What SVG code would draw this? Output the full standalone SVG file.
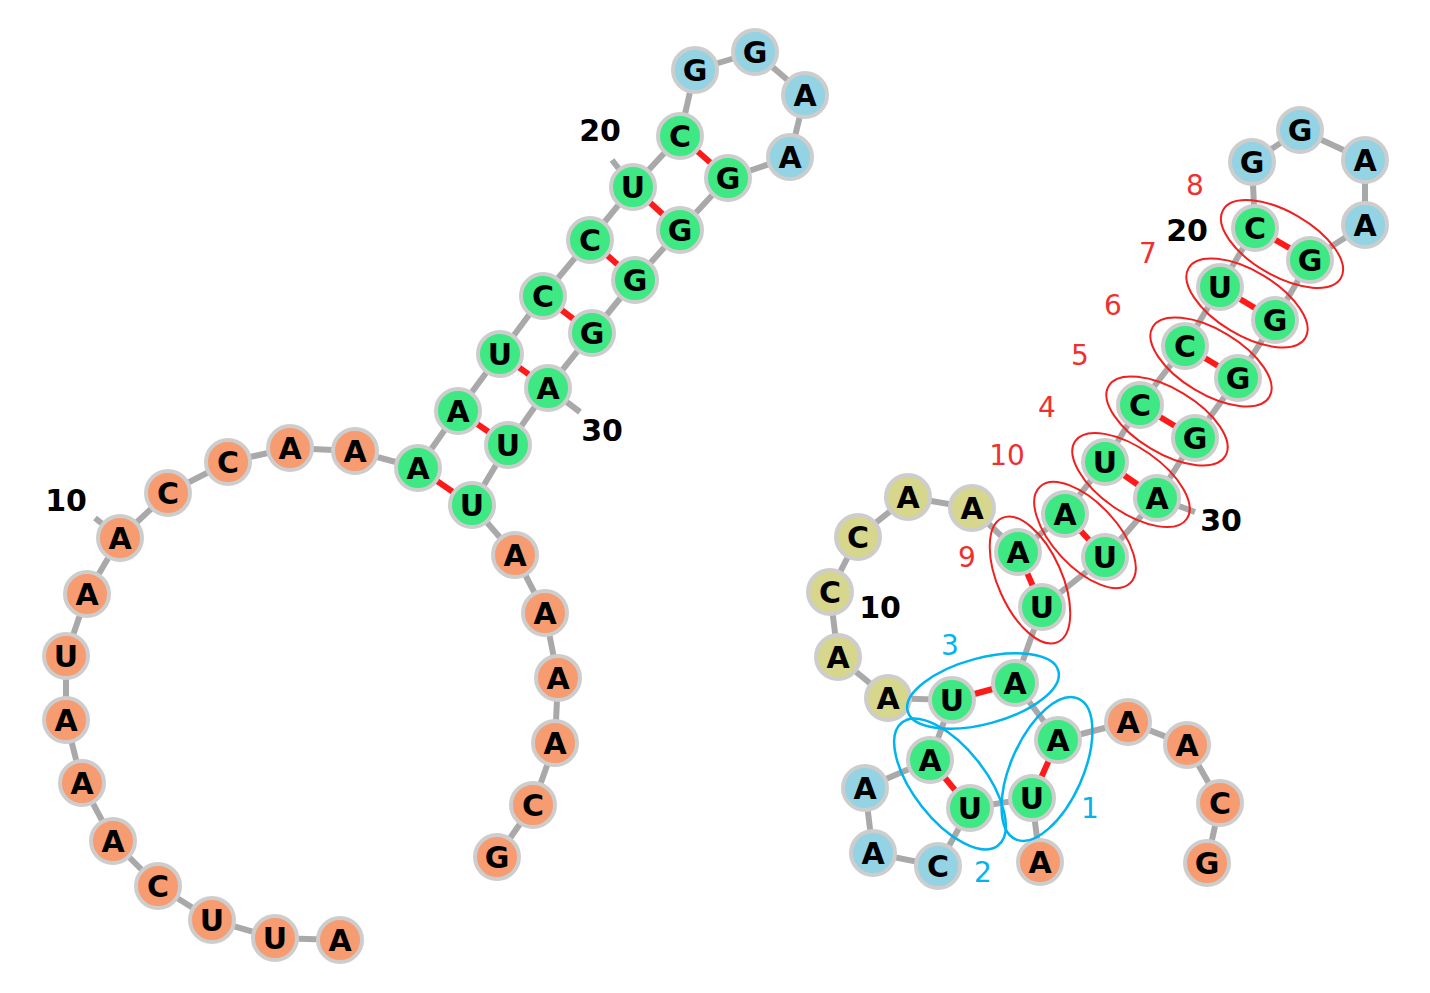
<svg xmlns="http://www.w3.org/2000/svg" width="1430" height="993" viewBox="0 0 1430 993">
<style>
.g{fill:#3ee882}.o{fill:#f79b70}.b{fill:#93d3e3}.y{fill:#d6d68c}
circle{stroke:#cdcdcd;stroke-width:4}
.n text{font-family:Verdana,"DejaVu Sans",sans-serif;font-weight:bold;font-size:30px;text-anchor:middle;dominant-baseline:central;fill:#000}
.bb{stroke:#a9a9a9;stroke-width:6;fill:none}
.bp{stroke:#ff1a1a;stroke-width:6;fill:none}
.lab{font-family:Verdana,"DejaVu Sans",sans-serif;font-weight:bold;font-size:30px;fill:#000;text-anchor:middle}
.rn{font-family:Verdana,"DejaVu Sans",sans-serif;font-size:28px;fill:#f03030;text-anchor:middle}
.cn{font-family:Verdana,"DejaVu Sans",sans-serif;font-size:28px;fill:#00b4ee;text-anchor:middle}
.re{fill:none;stroke:#f02020;stroke-width:2}
.ce{fill:none;stroke:#00b4ee;stroke-width:2.5}
</style>
<g id="connectors">
<polyline class="bb" points="340,940 275,938 212,920 158,886 113,841 82,783 66,720 66,656 87,594 120,538 168,493 228,462 290,448 355,451 418,468 458,411 500,354 543,296 590,240 633,187 680,136 695,70 755,52 805,95 790,157 728,178 680,230 635,280 592,333 548,388 508,445 472,505 515,555 545,613 558,678 555,743 533,805 497,857"/>
<line class="bb" x1="120" y1="538" x2="95" y2="518"/>
<line class="bb" x1="633" y1="187" x2="612" y2="160"/>
<line class="bb" x1="548" y1="388" x2="580" y2="412"/>
<g class="bp">
<line x1="418" y1="468" x2="472" y2="505"/><line x1="458" y1="411" x2="508" y2="445"/><line x1="500" y1="354" x2="548" y2="388"/><line x1="543" y1="296" x2="592" y2="333"/><line x1="590" y1="240" x2="635" y2="280"/><line x1="633" y1="187" x2="680" y2="230"/><line x1="680" y1="136" x2="728" y2="178"/>
</g>
<polyline class="bb" points="1040,862 1032,798 970,808 938,866 873,853 865,788 930,760 952,700 888,698 838,657 830,592 858,537 908,497 972,508 1018,552 1065,514 1105,462 1140,405 1185,346 1220,287 1255,228 1252,162 1300,130 1365,160 1365,225 1310,260 1275,320 1238,378 1195,438 1157,498 1105,557 1042,607 1015,683 1058,740 1128,722 1187,745 1220,803 1207,863"/>
<line class="bb" x1="1157" y1="498" x2="1195" y2="512"/>
<g class="bp">
<line x1="1032" y1="798" x2="1058" y2="740"/><line x1="970" y1="808" x2="930" y2="760"/><line x1="952" y1="700" x2="1015" y2="683"/><line x1="1018" y1="552" x2="1042" y2="607"/><line x1="1065" y1="514" x2="1105" y2="557"/><line x1="1105" y1="462" x2="1157" y2="498"/><line x1="1140" y1="405" x2="1195" y2="438"/><line x1="1185" y1="346" x2="1238" y2="378"/><line x1="1220" y1="287" x2="1275" y2="320"/><line x1="1255" y1="228" x2="1310" y2="260"/>
</g>
</g>
<g id="left-nodes" class="n">
<g id="L1"><circle class="o" cx="340" cy="940" r="22"/><text x="340" y="940">A</text></g>
<g id="L2"><circle class="o" cx="275" cy="938" r="22"/><text x="275" y="938">U</text></g>
<g id="L3"><circle class="o" cx="212" cy="920" r="22"/><text x="212" y="920">U</text></g>
<g id="L4"><circle class="o" cx="158" cy="886" r="22"/><text x="158" y="886">C</text></g>
<g id="L5"><circle class="o" cx="113" cy="841" r="22"/><text x="113" y="841">A</text></g>
<g id="L6"><circle class="o" cx="82" cy="783" r="22"/><text x="82" y="783">A</text></g>
<g id="L7"><circle class="o" cx="66" cy="720" r="22"/><text x="66" y="720">A</text></g>
<g id="L8"><circle class="o" cx="66" cy="656" r="22"/><text x="66" y="656">U</text></g>
<g id="L9"><circle class="o" cx="87" cy="594" r="22"/><text x="87" y="594">A</text></g>
<g id="L10"><circle class="o" cx="120" cy="538" r="22"/><text x="120" y="538">A</text></g>
<g id="L11"><circle class="o" cx="168" cy="493" r="22"/><text x="168" y="493">C</text></g>
<g id="L12"><circle class="o" cx="228" cy="462" r="22"/><text x="228" y="462">C</text></g>
<g id="L13"><circle class="o" cx="290" cy="448" r="22"/><text x="290" y="448">A</text></g>
<g id="L14"><circle class="o" cx="355" cy="451" r="22"/><text x="355" y="451">A</text></g>
<g id="L15"><circle class="g" cx="418" cy="468" r="22"/><text x="418" y="468">A</text></g>
<g id="L16"><circle class="g" cx="458" cy="411" r="22"/><text x="458" y="411">A</text></g>
<g id="L17"><circle class="g" cx="500" cy="354" r="22"/><text x="500" y="354">U</text></g>
<g id="L18"><circle class="g" cx="543" cy="296" r="22"/><text x="543" y="296">C</text></g>
<g id="L19"><circle class="g" cx="590" cy="240" r="22"/><text x="590" y="240">C</text></g>
<g id="L20"><circle class="g" cx="633" cy="187" r="22"/><text x="633" y="187">U</text></g>
<g id="L21"><circle class="g" cx="680" cy="136" r="22"/><text x="680" y="136">C</text></g>
<g id="L22"><circle class="b" cx="695" cy="70" r="22"/><text x="695" y="70">G</text></g>
<g id="L23"><circle class="b" cx="755" cy="52" r="22"/><text x="755" y="52">G</text></g>
<g id="L24"><circle class="b" cx="805" cy="95" r="22"/><text x="805" y="95">A</text></g>
<g id="L25"><circle class="b" cx="790" cy="157" r="22"/><text x="790" y="157">A</text></g>
<g id="L26"><circle class="g" cx="728" cy="178" r="22"/><text x="728" y="178">G</text></g>
<g id="L27"><circle class="g" cx="680" cy="230" r="22"/><text x="680" y="230">G</text></g>
<g id="L28"><circle class="g" cx="635" cy="280" r="22"/><text x="635" y="280">G</text></g>
<g id="L29"><circle class="g" cx="592" cy="333" r="22"/><text x="592" y="333">G</text></g>
<g id="L30"><circle class="g" cx="548" cy="388" r="22"/><text x="548" y="388">A</text></g>
<g id="L31"><circle class="g" cx="508" cy="445" r="22"/><text x="508" y="445">U</text></g>
<g id="L32"><circle class="g" cx="472" cy="505" r="22"/><text x="472" y="505">U</text></g>
<g id="L33"><circle class="o" cx="515" cy="555" r="22"/><text x="515" y="555">A</text></g>
<g id="L34"><circle class="o" cx="545" cy="613" r="22"/><text x="545" y="613">A</text></g>
<g id="L35"><circle class="o" cx="558" cy="678" r="22"/><text x="558" y="678">A</text></g>
<g id="L36"><circle class="o" cx="555" cy="743" r="22"/><text x="555" y="743">A</text></g>
<g id="L37"><circle class="o" cx="533" cy="805" r="22"/><text x="533" y="805">C</text></g>
<g id="L38"><circle class="o" cx="497" cy="857" r="22"/><text x="497" y="857">G</text></g>
</g>
<g id="right-nodes" class="n">
<g id="R1"><circle class="o" cx="1040" cy="862" r="22"/><text x="1040" y="862">A</text></g>
<g id="R2"><circle class="g" cx="1032" cy="798" r="22"/><text x="1032" y="798">U</text></g>
<g id="R3"><circle class="g" cx="970" cy="808" r="22"/><text x="970" y="808">U</text></g>
<g id="R4"><circle class="b" cx="938" cy="866" r="22"/><text x="938" y="866">C</text></g>
<g id="R5"><circle class="b" cx="873" cy="853" r="22"/><text x="873" y="853">A</text></g>
<g id="R6"><circle class="b" cx="865" cy="788" r="22"/><text x="865" y="788">A</text></g>
<g id="R7"><circle class="g" cx="930" cy="760" r="22"/><text x="930" y="760">A</text></g>
<g id="R8"><circle class="g" cx="952" cy="700" r="22"/><text x="952" y="700">U</text></g>
<g id="R9"><circle class="y" cx="888" cy="698" r="22"/><text x="888" y="698">A</text></g>
<g id="R10"><circle class="y" cx="838" cy="657" r="22"/><text x="838" y="657">A</text></g>
<g id="R11"><circle class="y" cx="830" cy="592" r="22"/><text x="830" y="592">C</text></g>
<g id="R12"><circle class="y" cx="858" cy="537" r="22"/><text x="858" y="537">C</text></g>
<g id="R13"><circle class="y" cx="908" cy="497" r="22"/><text x="908" y="497">A</text></g>
<g id="R14"><circle class="y" cx="972" cy="508" r="22"/><text x="972" y="508">A</text></g>
<g id="R15"><circle class="g" cx="1018" cy="552" r="22"/><text x="1018" y="552">A</text></g>
<g id="R16"><circle class="g" cx="1065" cy="514" r="22"/><text x="1065" y="514">A</text></g>
<g id="R17"><circle class="g" cx="1105" cy="462" r="22"/><text x="1105" y="462">U</text></g>
<g id="R18"><circle class="g" cx="1140" cy="405" r="22"/><text x="1140" y="405">C</text></g>
<g id="R19"><circle class="g" cx="1185" cy="346" r="22"/><text x="1185" y="346">C</text></g>
<g id="R20"><circle class="g" cx="1220" cy="287" r="22"/><text x="1220" y="287">U</text></g>
<g id="R21"><circle class="g" cx="1255" cy="228" r="22"/><text x="1255" y="228">C</text></g>
<g id="R22"><circle class="b" cx="1252" cy="162" r="22"/><text x="1252" y="162">G</text></g>
<g id="R23"><circle class="b" cx="1300" cy="130" r="22"/><text x="1300" y="130">G</text></g>
<g id="R24"><circle class="b" cx="1365" cy="160" r="22"/><text x="1365" y="160">A</text></g>
<g id="R25"><circle class="b" cx="1365" cy="225" r="22"/><text x="1365" y="225">A</text></g>
<g id="R26"><circle class="g" cx="1310" cy="260" r="22"/><text x="1310" y="260">G</text></g>
<g id="R27"><circle class="g" cx="1275" cy="320" r="22"/><text x="1275" y="320">G</text></g>
<g id="R28"><circle class="g" cx="1238" cy="378" r="22"/><text x="1238" y="378">G</text></g>
<g id="R29"><circle class="g" cx="1195" cy="438" r="22"/><text x="1195" y="438">G</text></g>
<g id="R30"><circle class="g" cx="1157" cy="498" r="22"/><text x="1157" y="498">A</text></g>
<g id="R31"><circle class="g" cx="1105" cy="557" r="22"/><text x="1105" y="557">U</text></g>
<g id="R32"><circle class="g" cx="1042" cy="607" r="22"/><text x="1042" y="607">U</text></g>
<g id="R33"><circle class="g" cx="1015" cy="683" r="22"/><text x="1015" y="683">A</text></g>
<g id="R34"><circle class="g" cx="1058" cy="740" r="22"/><text x="1058" y="740">A</text></g>
<g id="R35"><circle class="o" cx="1128" cy="722" r="22"/><text x="1128" y="722">A</text></g>
<g id="R36"><circle class="o" cx="1187" cy="745" r="22"/><text x="1187" y="745">A</text></g>
<g id="R37"><circle class="o" cx="1220" cy="803" r="22"/><text x="1220" y="803">C</text></g>
<g id="R38"><circle class="o" cx="1207" cy="863" r="22"/><text x="1207" y="863">G</text></g>
</g>
<g id="ellipses">
<ellipse class="re" cx="1282" cy="244" rx="68" ry="32" transform="rotate(30 1282 244)"/>
<ellipse class="re" cx="1247" cy="303" rx="68" ry="32" transform="rotate(31 1247 303)"/>
<ellipse class="re" cx="1211" cy="362" rx="68" ry="32" transform="rotate(31 1211 362)"/>
<ellipse class="re" cx="1167" cy="421" rx="68" ry="32" transform="rotate(31 1167 421)"/>
<ellipse class="re" cx="1131" cy="480" rx="68" ry="32" transform="rotate(35 1131 480)"/>
<ellipse class="re" cx="1085" cy="535" rx="66" ry="32" transform="rotate(47 1085 535)"/>
<ellipse class="re" cx="1030" cy="580" rx="68" ry="32" transform="rotate(66 1030 580)"/>
<ellipse class="ce" cx="983" cy="691" rx="78" ry="33" transform="rotate(-15 983 691)"/>
<ellipse class="ce" cx="1047" cy="769" rx="77" ry="36" transform="rotate(-66 1047 769)"/>
<ellipse class="ce" cx="950" cy="784" rx="78" ry="36" transform="rotate(52 950 784)"/>
</g>
<g id="labels">
<text class="lab" x="66" y="511">10</text>
<text class="lab" x="600" y="141">20</text>
<text class="lab" x="602" y="441">30</text>
<text class="lab" x="880" y="618">10</text>
<text class="lab" x="1187" y="241">20</text>
<text class="lab" x="1221" y="531">30</text>
<text class="rn" x="1195" y="195">8</text>
<text class="rn" x="1148" y="263">7</text>
<text class="rn" x="1113" y="315">6</text>
<text class="rn" x="1080" y="365">5</text>
<text class="rn" x="1047" y="417">4</text>
<text class="rn" x="1007" y="465">10</text>
<text class="rn" x="967" y="567">9</text>
<text class="cn" x="950" y="655">3</text>
<text class="cn" x="1090" y="818">1</text>
<text class="cn" x="983" y="882">2</text>
</g>
</svg>
